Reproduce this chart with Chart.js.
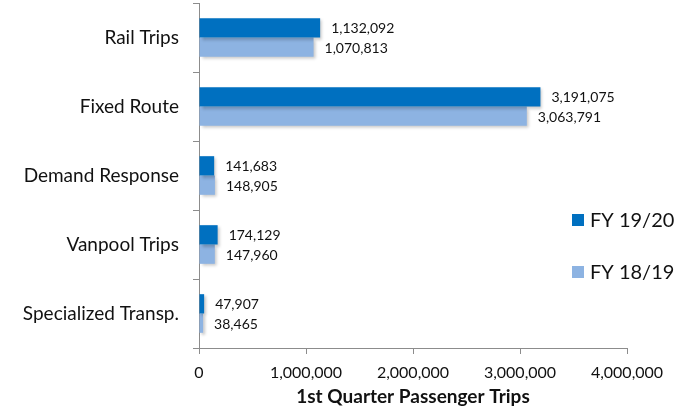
<!DOCTYPE html>
<html>
<head>
<meta charset="utf-8">
<script src="https://cdn.jsdelivr.net/npm/chart.js@4.4.1/dist/chart.umd.min.js"></script>
<style>
  html, body { margin:0; padding:0; background:#fff; }
  #wrap { width:690px; height:413px; position:relative; }
</style>
</head>
<body>
<div id="wrap"><canvas id="chart-trips"></canvas></div>
<script>
    // Quarterly passenger trips by service type
    const categories = ['Rail Trips', 'Fixed Route', 'Demand Response', 'Vanpool Trips', 'Specialized Transp.'];
    const fy1920 = [1132092, 3191075, 141683, 174129, 47907];
    const fy1819 = [1070813, 3063791, 148905, 147960, 38465];
    const seriesLabels = ['FY 19/20', 'FY 18/19'];
    const xTicks = [0, 1000000, 2000000, 3000000, 4000000];

    const FONT = 'Lato, "Open Sans", sans-serif';
    const AXIS = '#8c8c8c';
    const fmt = v => v.toLocaleString('en-US');

    // soft drop shadow under the bars
    const barShadow = {
        id: 'barShadow',
        beforeDatasetsDraw(chart) {
            const ctx = chart.ctx;
            ctx.save();
            ctx.shadowColor = 'rgba(0,0,0,0.22)';
            ctx.shadowBlur = 3;
            ctx.shadowOffsetX = 2;
            ctx.shadowOffsetY = 2;
        },
        afterDatasetsDraw(chart) { chart.ctx.restore(); }
    };

    // value labels just past the end of each bar
    const valueLabels = {
        id: 'valueLabels',
        afterDatasetsDraw(chart) {
            const ctx = chart.ctx;
            ctx.save();
            ctx.font = '14px ' + FONT;
            ctx.fillStyle = '#111';
            ctx.textBaseline = 'middle';
            ctx.textAlign = 'left';
            chart.data.datasets.forEach((ds, i) => {
                chart.getDatasetMeta(i).data.forEach((bar, j) => {
                    ctx.fillText(fmt(ds.data[j]), bar.x + 11, bar.y + 1);
                });
            });
            ctx.restore();
        }
    };

    // legend on the right, square swatches
    const sideLegend = {
        id: 'sideLegend',
        afterDraw(chart) {
            const ctx = chart.ctx;
            ctx.save();
            ctx.font = '20px ' + FONT;
            ctx.textBaseline = 'middle';
            chart.data.datasets.forEach((ds, i) => {
                const y = 220 + i * 52;
                ctx.fillStyle = ds.backgroundColor;
                ctx.fillRect(572, y - 6, 12, 12);
                ctx.fillStyle = '#111';
                ctx.fillText(ds.label, 590, y + 1);
            });
            ctx.restore();
        }
    };

    new Chart(document.getElementById('chart-trips'), {
        type: 'bar',
        data: {
            labels: categories,
            datasets: [
                { label: seriesLabels[0], data: fy1920, backgroundColor: '#0070c0' },
                { label: seriesLabels[1], data: fy1819, backgroundColor: '#8db3e2' }
            ]
        },
        options: {
            indexAxis: 'y',
            responsive: true,
            maintainAspectRatio: false,
            animation: false,
            categoryPercentage: 0.56,
            barPercentage: 1.0,
            layout: { padding: { top: 3, right: 63, left: 0, bottom: 0 } },
            plugins: { legend: { display: false }, tooltip: { enabled: false } },
            scales: {
                x: {
                    min: 0, max: 4000000,
                    afterBuildTicks: s => { s.ticks = xTicks.map(v => ({ value: v })); },
                    afterFit: s => { s.height = 65; },
                    grid: { drawOnChartArea: false, tickLength: 6, color: AXIS },
                    border: { color: AXIS, width: 1 },
                    ticks: { color: '#111', font: { family: FONT, size: 16 }, padding: 9, callback: v => fmt(v), maxRotation: 0 },
                    title: { display: true, text: '1st Quarter Passenger Trips', color: '#111',
                             font: { family: FONT, size: 19, weight: 'bold' }, padding: { top: 2, bottom: 5 } }
                },
                y: {
                    afterFit: s => { s.width = 199; s.paddingTop = 0; s.paddingBottom = 0; },
                    grid: { drawOnChartArea: false, tickLength: 6, color: AXIS, offset: true },
                    border: { color: AXIS, width: 1 },
                    ticks: { color: '#111', font: { family: FONT, size: 19 }, padding: 14 }
                }
            }
        },
        plugins: [barShadow, valueLabels, sideLegend]
    });
</script>
</body>
</html>
